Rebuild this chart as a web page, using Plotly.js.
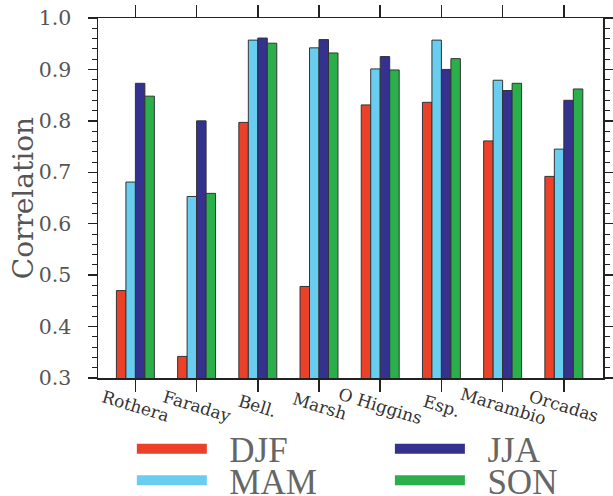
<!DOCTYPE html>
<html>
<head>
<meta charset="utf-8">
<script src="https://cdn.plot.ly/plotly-3.0.1.min.js"></script>
<style>html,body{margin:0;padding:0;background:#fff;}#chart{width:613px;height:496px;}</style>
</head>
<body>
<div id="chart"></div>
<script>
var stations = ["Rothera", "Faraday", "Bell.", "Marsh", "O Higgins", "Esp.", "Marambio", "Orcadas"];
var seasons = ["DJF", "MAM", "JJA", "SON"];
var djf = [0.470, 0.342, 0.797, 0.478, 0.831, 0.836, 0.761, 0.692];
var mam = [0.681, 0.653, 0.957, 0.942, 0.901, 0.957, 0.879, 0.745];
var jja = [0.873, 0.800, 0.961, 0.958, 0.925, 0.900, 0.859, 0.840];
var son = [0.848, 0.659, 0.951, 0.932, 0.899, 0.921, 0.873, 0.862];
var yTitle = "Correlation";

var series = [djf, mam, jja, son];
var colors = ["#EA4128", "#69CDF0", "#35318F", "#2BAF4B"];
var legendIds = ["legend", "legend2", "legend3", "legend4"];

var traces = [];
series.forEach(function (vals, i) {
  traces.push({
    type: "bar", x: stations, y: vals, name: seasons[i],
    marker: {color: colors[i], line: {color: "#333", width: 1}},
    showlegend: false, hoverinfo: "x+y+name"
  });
});
series.forEach(function (vals, i) {
  traces.push({
    type: "scatter", mode: "lines", x: [null], y: [null], name: "\u00a0\u00a0" + seasons[i],
    line: {color: colors[i], width: 12}, legend: legendIds[i], showlegend: true
  });
});

var legFont = {family: "Liberation Serif", size: 35, color: "#666"};
function leg(x, y) {
  return {x: x, y: y, xanchor: "left", yanchor: "middle", bgcolor: "rgba(0,0,0,0)",
          font: legFont, itemwidth: 70, borderwidth: 0, valign: "middle"};
}

var annotations = stations.map(function (s) {
  return {xref: "x", yref: "paper", x: s, y: -0.078, text: s, showarrow: false,
          textangle: 17, xanchor: "center", yanchor: "middle",
          font: {family: "DejaVu Serif", size: 17, color: "#333"}};
});
annotations.push({xref: "paper", yref: "paper", x: -0.148, y: 0.5, text: yTitle, showarrow: false,
  textangle: -90, xanchor: "center", yanchor: "middle",
  font: {family: "DejaVu Serif", size: 28, color: "#555"}});

var layout = {
  width: 613, height: 496,
  margin: {l: 98, r: 10, t: 18, b: 118, autoexpand: false},
  paper_bgcolor: "#fff", plot_bgcolor: "#fff",
  barmode: "group", bargap: 0.38, bargroupgap: 0,
  xaxis: {
    type: "category", range: [-0.611, 7.64], showticklabels: false,
    ticks: "outside", ticklen: 12, tickwidth: 1.5, tickcolor: "#222",
    showline: true, linecolor: "#222", linewidth: 1.5, mirror: "ticks",
    showgrid: false, zeroline: false
  },
  yaxis: {
    range: [0.3, 1.0], dtick: 0.1, tick0: 0.3, tickformat: ".1f",
    ticks: "outside", ticklen: 9, tickwidth: 1.5, tickcolor: "#222",
    minor: {dtick: 0.02, ticks: "outside", ticklen: 5, tickwidth: 1, tickcolor: "#222"},
    showline: true, linecolor: "#222", linewidth: 1.5, mirror: "ticks",
    showgrid: false, zeroline: false, ticklabelstandoff: 12,
    tickfont: {family: "DejaVu Serif", size: 20.5, color: "#555"}
  },
  legend: leg(0.067, -0.197),
  legend2: leg(0.067, -0.285),
  legend3: leg(0.578, -0.197),
  legend4: leg(0.578, -0.285),
  annotations: annotations,
  showlegend: true
};

Plotly.newPlot("chart", traces, layout, {displayModeBar: false, staticPlot: true});
</script>
</body>
</html>
